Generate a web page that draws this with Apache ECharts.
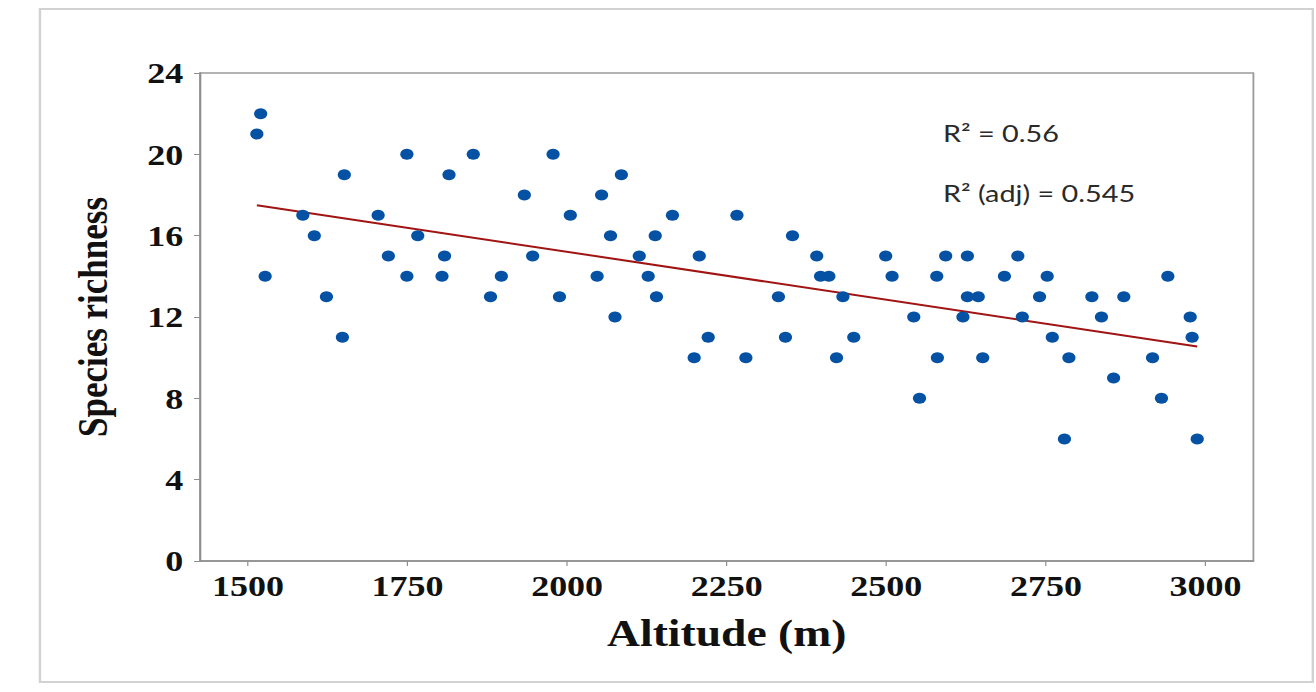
<!DOCTYPE html>
<html>
<head>
<meta charset="utf-8">
<script src="https://cdn.jsdelivr.net/npm/echarts@6/dist/echarts.min.js"></script>
<style>
  html, body { margin: 0; padding: 0; background: #fff; overflow: hidden; }
  /* the source picture is stretched sideways, so draw narrow and scale */
  #chart { width: 1096.67px; height: 692px; transform: scaleX(1.2); transform-origin: 0 0; }
</style>
</head>
<body>
<div id="chart"></div>
<script>
// samples
let altitude = [
  1520, 1514, 1527, 1586, 1604, 1623, 1651, 1648, 1704, 1720,
  1749, 1749, 1766, 1808, 1804, 1815, 1853, 1880, 1897, 1933,
  1946, 1978, 1988, 2005, 2047, 2054, 2068, 2075, 2085, 2113,
  2127, 2138, 2140, 2165, 2199, 2207, 2221, 2266, 2280, 2331,
  2342, 2353, 2391, 2397, 2410, 2422, 2432, 2449, 2499, 2509,
  2543, 2552, 2579, 2580, 2593, 2620, 2627, 2627, 2644, 2651,
  2685, 2706, 2713, 2740, 2752, 2760, 2779, 2786, 2822, 2837,
  2856, 2872, 2917, 2931, 2941, 2976, 2979, 2987
]
let richness = [
  22, 21, 14, 17, 16, 13, 19, 11, 17, 15,
  20, 14, 16, 15, 14, 19, 20, 13, 14, 18,
  15, 20, 13, 17, 14, 18, 16, 12, 19, 15,
  14, 16, 13, 17, 10, 15, 11, 17, 10, 13,
  11, 16, 15, 14, 14, 10, 13, 11, 15, 14,
  12, 8, 14, 10, 15, 12, 15, 13, 13, 10,
  14, 15, 12, 13, 14, 11, 6, 10, 13, 12,
  9, 13, 10, 8, 14, 12, 11, 6
]
// fitted line ends
let trendX = [1514, 2987]
let trendY = [17.5, 10.55]
let xTicks = [1500, 1750, 2000, 2250, 2500, 2750, 3000]
let statLines = ['R² = 0.56', 'R² (adj) = 0.545']

let points = altitude.map((a, i) => [a, richness[i]])
let trend = trendX.map((a, i) => [a, trendY[i]])

let chart = echarts.init(document.getElementById('chart'), null, { renderer: 'svg' })

let serif = {
  fontFamily: 'Liberation Serif',
  fontWeight: 'bold',
  color: '#111',
}

let option = {
  backgroundColor: '#fff',
  animation: false,
  grid: {
    left: 166.7,
    right: 52.5,
    top: 73,
    bottom: 131,
    show: true,
    borderColor: '#9a9a9a',
    borderWidth: 1.5,
  },
  xAxis: {
    type: 'value',
    min: 1425,
    max: 3075,
    name: 'Altitude (m)',
    nameLocation: 'middle',
    nameGap: 53,
    nameTextStyle: { ...serif, fontSize: 38 },
    axisLine: { lineStyle: { color: '#8e8e8e', width: 1.5 } },
    axisTick: { show: true, length: 5, lineStyle: { color: '#8e8e8e' }, customValues: xTicks },
    axisLabel: {
      ...serif,
      fontSize: 30,
      margin: 10,
      customValues: xTicks,
      formatter: (v) => String(v),
    },
    splitLine: { show: false },
  },
  yAxis: {
    type: 'value',
    min: 0,
    max: 24,
    interval: 4,
    name: 'Species richness',
    nameLocation: 'middle',
    nameGap: 72,
    nameTextStyle: { ...serif, fontSize: 35 },
    axisLine: { show: true, lineStyle: { color: '#8e8e8e', width: 1.5 } },
    axisTick: { show: true, length: 5, lineStyle: { color: '#8e8e8e' } },
    axisLabel: { ...serif, fontSize: 30, margin: 14 },
    splitLine: { show: false },
  },
  series: [
    {
      type: 'line',
      data: trend,
      symbol: 'none',
      z: 1,
      lineStyle: { color: '#a01414', width: 2 },
    },
    {
      type: 'scatter',
      data: points,
      symbol: 'circle',
      symbolSize: 11,
      z: 2,
      itemStyle: { color: '#0552a4', opacity: 1 },
    },
  ],
  graphic: [
    // outer frame
    {
      type: 'rect',
      shape: { x: 33.3, y: 9, width: 1060.7, height: 673 },
      style: { fill: 'none', stroke: '#d2d2d2', lineWidth: 2 },
      silent: true,
    },
    {
      type: 'text',
      x: 785.8,
      y: 133,
      style: {
        text: statLines[0],
        font: '24px Lato',
        fill: '#2a2a2a',
        verticalAlign: 'middle',
      },
    },
    {
      type: 'text',
      x: 785.8,
      y: 193,
      style: {
        text: statLines[1],
        font: '24px Lato',
        fill: '#2a2a2a',
        verticalAlign: 'middle',
      },
    },
  ],
}

chart.setOption(option)
</script>
</body>
</html>
